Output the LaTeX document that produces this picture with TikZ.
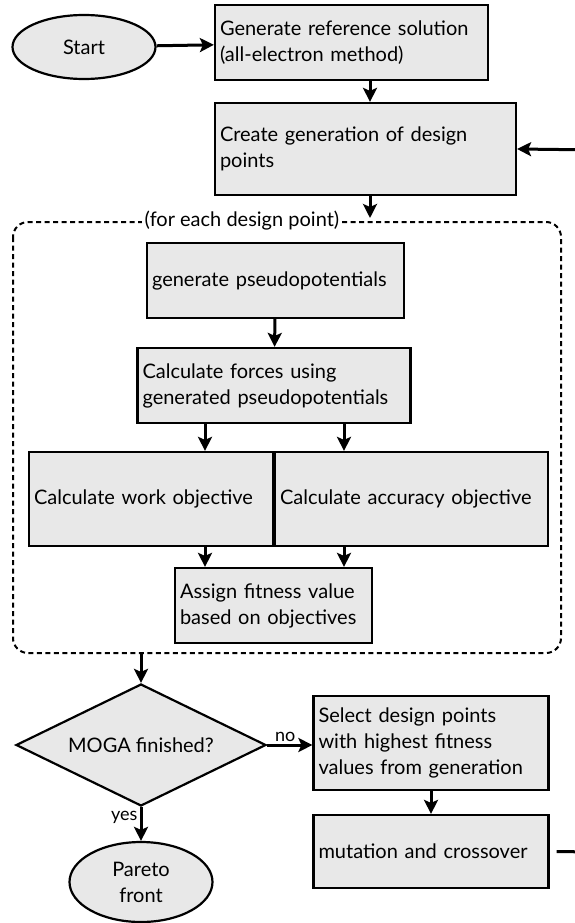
\documentclass[tikz,border=0pt]{standalone}
\usepackage{fontspec}
\setmainfont{Lato}
\usepackage{xcolor}
\definecolor{boxgray}{RGB}{232, 232, 232}
\usetikzlibrary{arrows.meta,shapes.geometric}
\hyphenpenalty=10000
\tikzset{every node/.style={font=\fontsize{20}{26}\selectfont}}
\tikzset{proc/.style={draw,line width=2.2pt,fill=boxgray,align=left,inner xsep=5pt,inner ysep=4pt}}
\tikzset{term/.style={draw,line width=2.2pt,fill=boxgray,ellipse,align=center,inner sep=0pt}}
\tikzset{flow/.style={line width=3pt,-{Stealth[length=14pt,width=14pt,inset=3pt]}}}

\begin{document}
\begin{tikzpicture}[x=1pt,y=-1pt]
\useasboundingbox (0,0) rectangle (575,923);
\clip (0,0) rectangle (575,923);
\node[term,minimum width=143,minimum height=64] (st) at (84,47) {Start};
\node[proc,minimum width=273,minimum height=75,text width=263] (b1) at (351.5,42.5) {Generate reference solution\\(all-electron method)};
\node[proc,minimum width=301,minimum height=92,text width=291] (b2) at (365.5,149) {Create generation of design\\points};
\draw[line width=2pt,dash pattern=on 5pt off 3.5pt,rounded corners=15] (13,222) rectangle (561,653);
\node[fill=white,inner xsep=3pt,inner ysep=1pt] (lp) at (242,221) {(for each design point)};
\node[proc,minimum width=257,minimum height=75,text width=247] (b3) at (275.5,280.5) {generate pseudopotentials};
\node[proc,minimum width=273,minimum height=75,text width=263] (b4) at (274,385.5) {Calculate forces using\\generated pseudopotentials};
\node[proc,minimum width=244,minimum height=94,text width=234] (b5) at (151,499) {Calculate work objective};
\node[proc,minimum width=273,minimum height=94,text width=263] (b6) at (411.5,499) {Calculate accuracy objective};
\node[proc,minimum width=197,minimum height=75,text width=187] (b7) at (273.5,605.5) {Assign fitness value\\based on objectives};
\node[draw,line width=2.2pt,fill=boxgray,diamond,aspect=2.05,minimum width=250,minimum height=122,inner sep=0pt] (dec) at (141,745) {MOGA finished?};
\node[proc,minimum width=235,minimum height=94,text width=225] (b8) at (431,743) {Select design points\\with highest fitness\\values from generation};
\node[proc,minimum width=235,minimum height=73,text width=225] (b9) at (431,851.5) {mutation and crossover};
\node[term,minimum width=143,minimum height=80] (pf) at (141,882) {Pareto\\front};
\coordinate (dbot) at (141,653);
\coordinate (lp1) at (600,852);
\coordinate (lp2) at (600,150);
\draw[flow] (st) -- (b1);
\draw[flow] (b1.south -| 370,0) -- (b2.north -| 370,0);
\draw[flow] (b2.south -| 370,0) -- (370,218);
\draw[flow] (b3) -- (b4);
\draw[flow] (b4.south -| 205,0) -- (b5.north -| 205,0);
\draw[flow] (b4.south -| 344,0) -- (b6.north -| 344,0);
\draw[flow] (b5.south -| 205,0) -- (b7.north -| 205,0);
\draw[flow] (b6.south -| 344,0) -- (b7.north -| 344,0);
\draw[flow] (dbot) -- (dec.north);
\draw[flow] (dec.east) -- node[above,pos=0.4,font=\fontsize{18}{20}\selectfont,inner sep=2pt] {no} (b8.west |- dec.east);
\draw[flow] (b8) -- (b9);
\draw[flow] (dec.south) -- node[pos=0.3,left,font=\fontsize{18}{20}\selectfont,inner sep=2pt] {yes} (pf.north);
\draw[flow,shorten <=7pt] (b9.east) -- (lp1) -- (lp2) -- (b2.east);
\end{tikzpicture}
\end{document}
